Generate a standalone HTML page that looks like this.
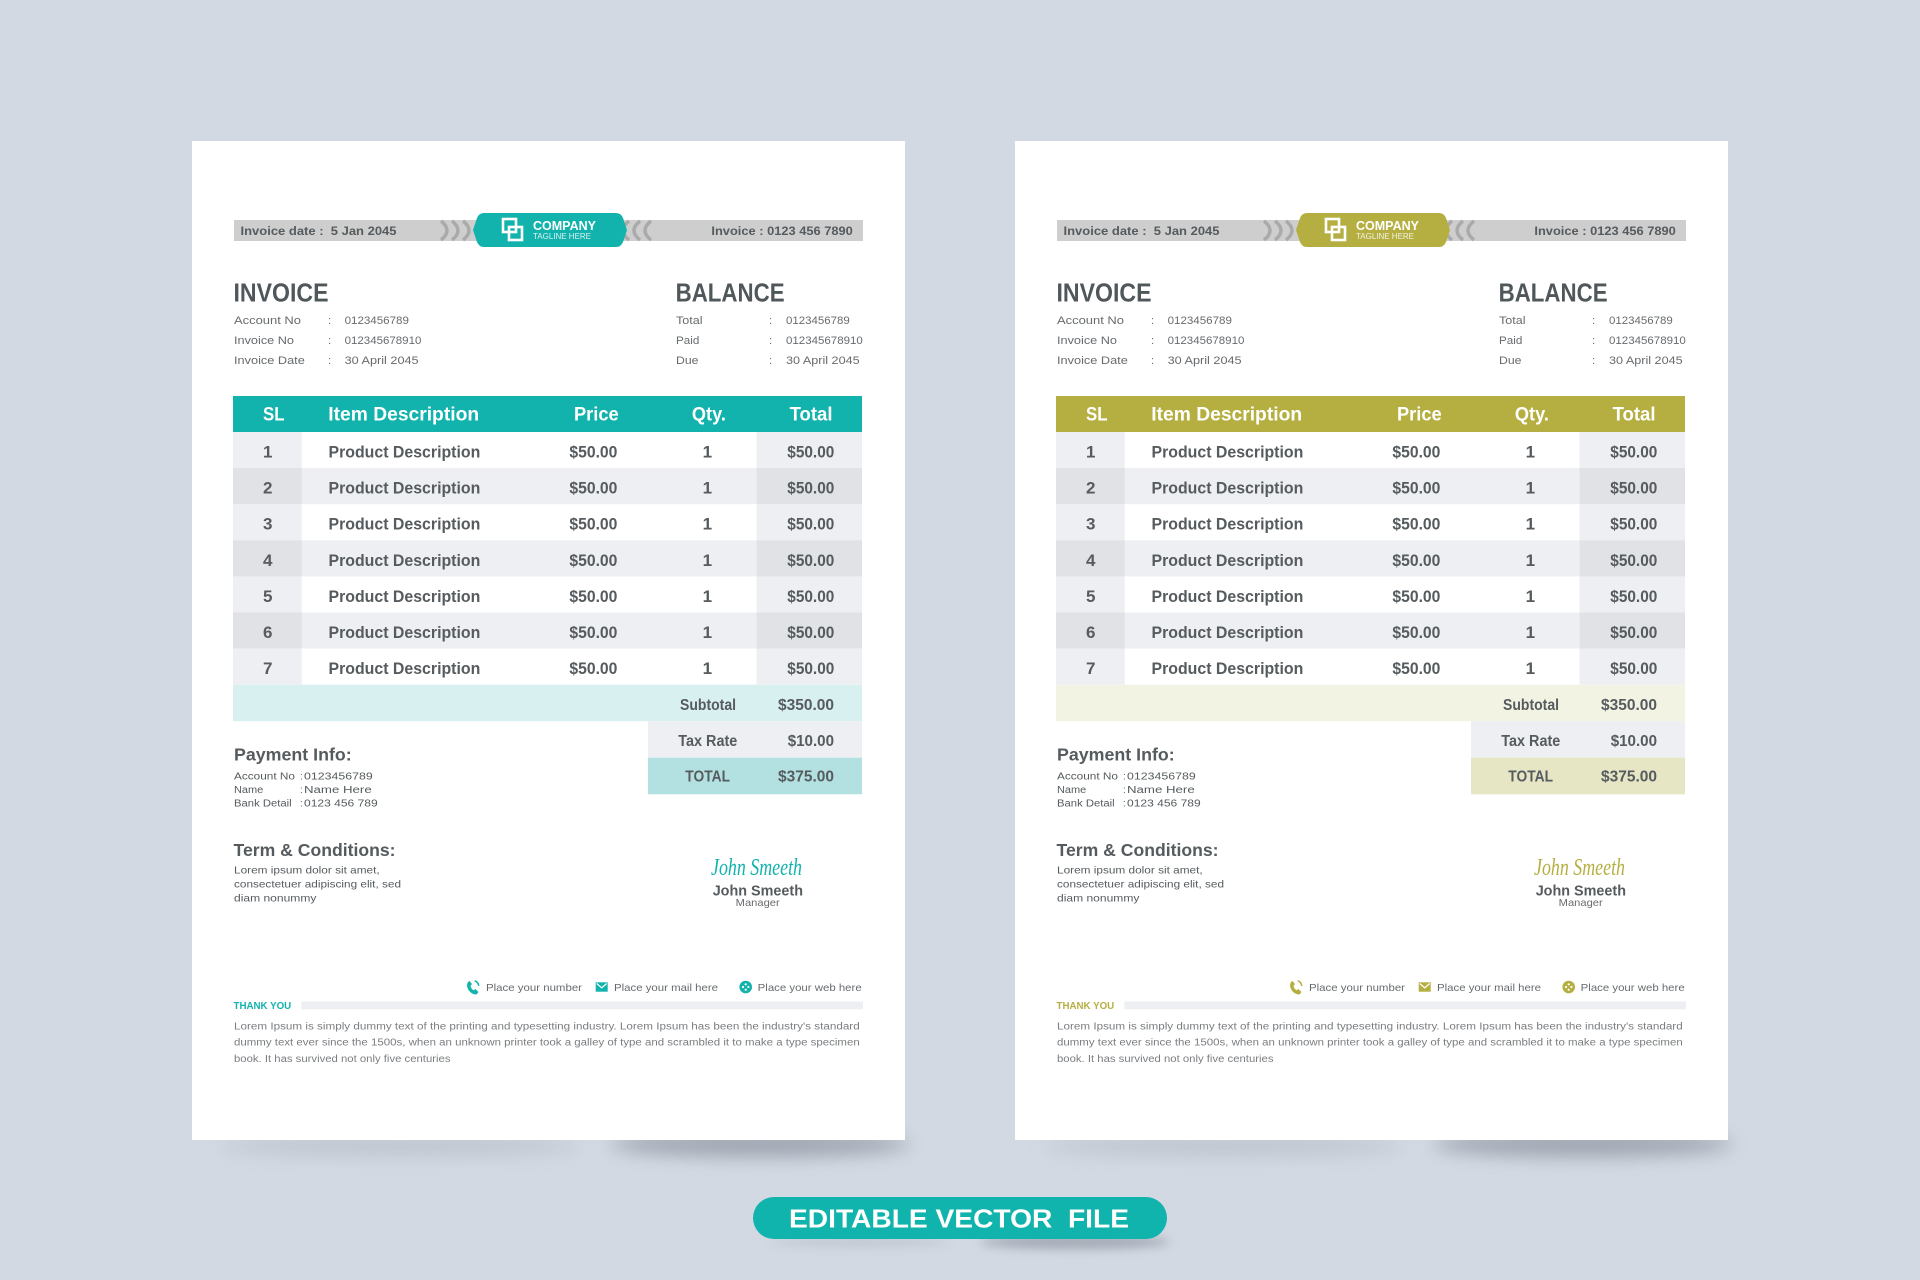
<!DOCTYPE html>
<html><head><meta charset="utf-8">
<style>
html,body{margin:0;padding:0;background:#d3d9e2;}
svg{display:block;}
text{font-family:"Liberation Sans",Arial,sans-serif;}
.b{font-weight:bold;}
.g5{fill:#555b5e;}
.g6{fill:#676b6e;}
.g7{fill:#7a7d80;}
.p1 .acc{fill:#12b2ad;} .p1 .lt{fill:#d9f0f0;} .p1 .mt{fill:#b3e1e1;}
.p2 .acc{fill:#b5af42;} .p2 .lt{fill:#f3f3e4;} .p2 .mt{fill:#e6e5c4;}
</style></head>
<body>
<svg width="1920" height="1280" viewBox="0 0 1920 1280" xmlns="http://www.w3.org/2000/svg">
<defs>
<filter id="bl" x="-50%" y="-200%" width="200%" height="500%"><feGaussianBlur stdDeviation="9"/></filter>
<filter id="bl2" x="-50%" y="-200%" width="200%" height="500%"><feGaussianBlur stdDeviation="5"/></filter>
</defs>
<rect width="1920" height="1280" fill="#d3d9e2"/>

<!-- shadows -->
<ellipse cx="400" cy="1146" rx="180" ry="10" fill="#9aa0ab" opacity="0.35" filter="url(#bl)"/>
<ellipse cx="760" cy="1144" rx="150" ry="13" fill="#7d8391" opacity="0.6" filter="url(#bl)"/>
<ellipse cx="1223" cy="1146" rx="180" ry="10" fill="#9aa0ab" opacity="0.35" filter="url(#bl)"/>
<ellipse cx="1583" cy="1144" rx="150" ry="13" fill="#7d8391" opacity="0.6" filter="url(#bl)"/>
<ellipse cx="1075" cy="1242" rx="95" ry="7" fill="#7d8391" opacity="0.55" filter="url(#bl2)"/>
<ellipse cx="860" cy="1242" rx="90" ry="5" fill="#9aa0ab" opacity="0.3" filter="url(#bl2)"/>

<!-- ============ LEFT PAGE ============ -->
<g class="p1" transform="translate(192,141)">
<rect width="713" height="999" fill="#ffffff"/>
<rect x="42" y="79" width="629" height="21" fill="#cecece"/>
<g fill="none" stroke="#aaaaaa" stroke-width="3.5">
<path d="M249,80 Q261,89.5 249,99"/><path d="M260,80 Q272,89.5 260,99"/><path d="M271,80 Q283,89.5 271,99"/>
<path d="M437,80 Q425,89.5 437,99"/><path d="M448,80 Q436,89.5 448,99"/><path d="M459,80 Q447,89.5 459,99"/>
</g>
<path class="acc" d="M292,72 H424 Q429,72 431,77 L435,89 L431,101 Q429,106 424,106 H292 Q287,106 285,101 L281,89 L285,77 Q287,72 292,72 Z"/>
<g fill="none" stroke="#ffffff" stroke-width="2.6"><rect x="311" y="78" width="13" height="13"/><rect x="317" y="86" width="13" height="13"/></g>
<text x="341" y="89" font-size="13" class="b" fill="#fff" textLength="63" lengthAdjust="spacingAndGlyphs">COMPANY</text>
<text x="341" y="98" font-size="8.5" fill="#fff" fill-opacity="0.85" textLength="58" lengthAdjust="spacingAndGlyphs">TAGLINE HERE</text>
<text x="48.5" y="94" font-size="12" class="b g5" textLength="156" lengthAdjust="spacingAndGlyphs" xml:space="preserve">Invoice date :  5 Jan 2045</text>
<text x="519.4" y="94" font-size="12" class="b g5" textLength="141.4" lengthAdjust="spacingAndGlyphs">Invoice : 0123 456 7890</text>

<text x="41.5" y="160.7" font-size="26" class="b" fill="#50575a" textLength="95" lengthAdjust="spacingAndGlyphs">INVOICE</text>
<text x="483.6" y="160.7" font-size="26" class="b" fill="#50575a" textLength="109" lengthAdjust="spacingAndGlyphs">BALANCE</text>

<g font-size="11.4" class="g6">
<text x="42" y="183" textLength="67" lengthAdjust="spacingAndGlyphs">Account No</text>
<text x="42" y="203" textLength="60" lengthAdjust="spacingAndGlyphs">Invoice No</text>
<text x="42" y="223" textLength="70.8" lengthAdjust="spacingAndGlyphs">Invoice Date</text>
<text x="136" y="183">:</text><text x="136" y="203">:</text><text x="136" y="223">:</text>
<text x="152.6" y="183" textLength="64.3" lengthAdjust="spacingAndGlyphs">0123456789</text>
<text x="152.6" y="203" textLength="76.8" lengthAdjust="spacingAndGlyphs">012345678910</text>
<text x="152.6" y="223" textLength="74" lengthAdjust="spacingAndGlyphs">30 April 2045</text>
<text x="484" y="183" textLength="26.5" lengthAdjust="spacingAndGlyphs">Total</text>
<text x="484" y="203" textLength="23.3" lengthAdjust="spacingAndGlyphs">Paid</text>
<text x="484" y="223" textLength="22.4" lengthAdjust="spacingAndGlyphs">Due</text>
<text x="577" y="183">:</text><text x="577" y="203">:</text><text x="577" y="223">:</text>
<text x="594" y="183" textLength="63.8" lengthAdjust="spacingAndGlyphs">0123456789</text>
<text x="594" y="203" textLength="76.8" lengthAdjust="spacingAndGlyphs">012345678910</text>
<text x="594" y="223" textLength="73.6" lengthAdjust="spacingAndGlyphs">30 April 2045</text>
</g>

<!-- table -->
<rect class="acc" x="41" y="255" width="629" height="36"/>
<g font-size="19" class="b" fill="#ffffff">
<text x="71" y="279.7" textLength="21.5" lengthAdjust="spacingAndGlyphs">SL</text>
<text x="136.3" y="279.7" textLength="150.8" lengthAdjust="spacingAndGlyphs">Item Description</text>
<text x="382" y="279.7" textLength="44.7" lengthAdjust="spacingAndGlyphs">Price</text>
<text x="499.9" y="279.7" textLength="34" lengthAdjust="spacingAndGlyphs">Qty.</text>
<text x="597.6" y="279.7" textLength="42.9" lengthAdjust="spacingAndGlyphs">Total</text>
</g>
<!-- rows backgrounds -->
<rect x="41" y="291" width="68.7" height="36.1" fill="#eeeff2"/><rect x="564.6" y="291" width="105.4" height="36.1" fill="#eeeff2"/>
<rect x="41" y="327.1" width="629" height="36.1" fill="#eeeff2"/><rect x="41" y="327.1" width="68.7" height="36.1" fill="#e1e2e6"/><rect x="564.6" y="327.1" width="105.4" height="36.1" fill="#e1e2e6"/>
<rect x="41" y="363.2" width="68.7" height="36.1" fill="#eeeff2"/><rect x="564.6" y="363.2" width="105.4" height="36.1" fill="#eeeff2"/>
<rect x="41" y="399.3" width="629" height="36.1" fill="#eeeff2"/><rect x="41" y="399.3" width="68.7" height="36.1" fill="#e1e2e6"/><rect x="564.6" y="399.3" width="105.4" height="36.1" fill="#e1e2e6"/>
<rect x="41" y="435.4" width="68.7" height="36.1" fill="#eeeff2"/><rect x="564.6" y="435.4" width="105.4" height="36.1" fill="#eeeff2"/>
<rect x="41" y="471.5" width="629" height="36.1" fill="#eeeff2"/><rect x="41" y="471.5" width="68.7" height="36.1" fill="#e1e2e6"/><rect x="564.6" y="471.5" width="105.4" height="36.1" fill="#e1e2e6"/>
<rect x="41" y="507.6" width="68.7" height="36.1" fill="#eeeff2"/><rect x="564.6" y="507.6" width="105.4" height="36.1" fill="#eeeff2"/>
<g font-size="17" class="b g5">
<text x="75.7" y="316.5" text-anchor="middle">1</text><text x="136.5" y="316.5" textLength="151.8" lengthAdjust="spacingAndGlyphs">Product Description</text><text x="377.4" y="316.5" textLength="48" lengthAdjust="spacingAndGlyphs">$50.00</text><text x="515.3" y="316.5" text-anchor="middle">1</text><text x="595.3" y="316.5" textLength="47" lengthAdjust="spacingAndGlyphs">$50.00</text>
<text x="75.7" y="352.6" text-anchor="middle">2</text><text x="136.5" y="352.6" textLength="151.8" lengthAdjust="spacingAndGlyphs">Product Description</text><text x="377.4" y="352.6" textLength="48" lengthAdjust="spacingAndGlyphs">$50.00</text><text x="515.3" y="352.6" text-anchor="middle">1</text><text x="595.3" y="352.6" textLength="47" lengthAdjust="spacingAndGlyphs">$50.00</text>
<text x="75.7" y="388.7" text-anchor="middle">3</text><text x="136.5" y="388.7" textLength="151.8" lengthAdjust="spacingAndGlyphs">Product Description</text><text x="377.4" y="388.7" textLength="48" lengthAdjust="spacingAndGlyphs">$50.00</text><text x="515.3" y="388.7" text-anchor="middle">1</text><text x="595.3" y="388.7" textLength="47" lengthAdjust="spacingAndGlyphs">$50.00</text>
<text x="75.7" y="424.8" text-anchor="middle">4</text><text x="136.5" y="424.8" textLength="151.8" lengthAdjust="spacingAndGlyphs">Product Description</text><text x="377.4" y="424.8" textLength="48" lengthAdjust="spacingAndGlyphs">$50.00</text><text x="515.3" y="424.8" text-anchor="middle">1</text><text x="595.3" y="424.8" textLength="47" lengthAdjust="spacingAndGlyphs">$50.00</text>
<text x="75.7" y="460.9" text-anchor="middle">5</text><text x="136.5" y="460.9" textLength="151.8" lengthAdjust="spacingAndGlyphs">Product Description</text><text x="377.4" y="460.9" textLength="48" lengthAdjust="spacingAndGlyphs">$50.00</text><text x="515.3" y="460.9" text-anchor="middle">1</text><text x="595.3" y="460.9" textLength="47" lengthAdjust="spacingAndGlyphs">$50.00</text>
<text x="75.7" y="497" text-anchor="middle">6</text><text x="136.5" y="497" textLength="151.8" lengthAdjust="spacingAndGlyphs">Product Description</text><text x="377.4" y="497" textLength="48" lengthAdjust="spacingAndGlyphs">$50.00</text><text x="515.3" y="497" text-anchor="middle">1</text><text x="595.3" y="497" textLength="47" lengthAdjust="spacingAndGlyphs">$50.00</text>
<text x="75.7" y="533.1" text-anchor="middle">7</text><text x="136.5" y="533.1" textLength="151.8" lengthAdjust="spacingAndGlyphs">Product Description</text><text x="377.4" y="533.1" textLength="48" lengthAdjust="spacingAndGlyphs">$50.00</text><text x="515.3" y="533.1" text-anchor="middle">1</text><text x="595.3" y="533.1" textLength="47" lengthAdjust="spacingAndGlyphs">$50.00</text>
</g>
<!-- summary -->
<rect class="lt" x="41" y="543.7" width="629" height="36.5"/>
<rect x="456" y="580.2" width="214" height="36.5" fill="#eeeff2"/>
<rect class="mt" x="456" y="616.7" width="214" height="36.6"/>
<g font-size="16" class="b g5">
<text x="488" y="569" textLength="56" lengthAdjust="spacingAndGlyphs">Subtotal</text>
<text x="586" y="569" textLength="56" lengthAdjust="spacingAndGlyphs">$350.00</text>
<text x="486.3" y="605" textLength="59" lengthAdjust="spacingAndGlyphs">Tax Rate</text>
<text x="595.7" y="605" textLength="46.3" lengthAdjust="spacingAndGlyphs">$10.00</text>
<text x="493.3" y="640.5" textLength="44.7" lengthAdjust="spacingAndGlyphs">TOTAL</text>
<text x="586" y="640.5" textLength="56" lengthAdjust="spacingAndGlyphs">$375.00</text>
</g>

<!-- payment -->
<text x="42" y="619.7" font-size="17.5" class="b g5" textLength="117.7" lengthAdjust="spacingAndGlyphs">Payment Info:</text>
<g font-size="9.8" class="g5">
<text x="42" y="638.5" textLength="61" lengthAdjust="spacingAndGlyphs">Account No</text>
<text x="42" y="652" textLength="29.3" lengthAdjust="spacingAndGlyphs">Name</text>
<text x="42" y="665.5" textLength="57.7" lengthAdjust="spacingAndGlyphs">Bank Detail</text>
<text x="108" y="638.5">:</text><text x="108" y="652">:</text><text x="108" y="665.5">:</text>
<text x="112" y="638.5" textLength="68.7" lengthAdjust="spacingAndGlyphs">0123456789</text>
<text x="112" y="652" textLength="67.7" lengthAdjust="spacingAndGlyphs">Name Here</text>
<text x="112" y="665.5" textLength="73.7" lengthAdjust="spacingAndGlyphs">0123 456 789</text>
</g>

<!-- terms -->
<text x="41.5" y="715" font-size="17.5" class="b g5" textLength="162" lengthAdjust="spacingAndGlyphs">Term &amp; Conditions:</text>
<g font-size="10.5" class="g5">
<text x="42" y="732.3" textLength="145.7" lengthAdjust="spacingAndGlyphs">Lorem ipsum dolor sit amet,</text>
<text x="42" y="746.7" textLength="167" lengthAdjust="spacingAndGlyphs">consectetuer adipiscing elit, sed</text>
<text x="42" y="760.3" textLength="82.4" lengthAdjust="spacingAndGlyphs">diam nonummy</text>
</g>

<!-- signature -->
<text class="acc" x="519" y="734" font-size="24" font-style="italic" style="font-family:'Liberation Serif',serif" textLength="91" lengthAdjust="spacingAndGlyphs">John Smeeth</text>
<text x="520.7" y="754.7" font-size="15" class="b g5" textLength="90.3" lengthAdjust="spacingAndGlyphs">John Smeeth</text>
<text x="543.7" y="765" font-size="10.5" class="g6" textLength="44" lengthAdjust="spacingAndGlyphs">Manager</text>

<!-- contacts -->
<path class="acc" d="M276.5,840.5 Q273.5,844 276.5,849 Q279.5,853.5 284.5,853.5 L286.5,851 L283.5,848 L281.5,849.3 Q279,847.5 278.5,845 L280,843 L277.5,840 Z"/>
<path class="acc" d="M283,839 Q287,840.5 287.5,845 L286,845 Q285.5,841.5 282.5,840.5 Z"/>
<rect class="acc" x="403.7" y="841.3" width="12" height="9.4"/>
<polyline points="404.7,842.5 409.7,846.8 414.7,842.5" fill="none" stroke="#fff" stroke-width="1.2"/>
<circle class="acc" cx="553.7" cy="846" r="6.3"/>
<circle cx="551" cy="846" r="1.1" fill="#fff"/><circle cx="556.4" cy="846" r="1.1" fill="#fff"/><circle cx="553.7" cy="843.3" r="1.1" fill="#fff"/><circle cx="553.7" cy="848.7" r="1.1" fill="#fff"/>
<g font-size="10.5" class="g6">
<text x="294" y="850" textLength="96" lengthAdjust="spacingAndGlyphs">Place your number</text>
<text x="422" y="850" textLength="104" lengthAdjust="spacingAndGlyphs">Place your mail here</text>
<text x="565.7" y="850" textLength="104" lengthAdjust="spacingAndGlyphs">Place your web here</text>
</g>
<text class="acc b" x="41.5" y="868" font-size="10" textLength="57.7" lengthAdjust="spacingAndGlyphs">THANK YOU</text>
<rect x="109.3" y="860.5" width="561.7" height="7.8" fill="#eeeff2"/>
<g font-size="10" class="g7">
<text x="42" y="888.3" textLength="625.7" lengthAdjust="spacingAndGlyphs">Lorem Ipsum is simply dummy text of the printing and typesetting industry. Lorem Ipsum has been the industry's standard</text>
<text x="42" y="904.7" textLength="625.7" lengthAdjust="spacingAndGlyphs">dummy text ever since the 1500s, when an unknown printer took a galley of type and scrambled it to make a type specimen</text>
<text x="42" y="921" textLength="216.5" lengthAdjust="spacingAndGlyphs">book. It has survived not only five centuries</text>
</g>
</g>

<!-- ============ RIGHT PAGE ============ -->
<g class="p2" transform="translate(1015,141)">
<rect width="713" height="999" fill="#ffffff"/>
<rect x="42" y="79" width="629" height="21" fill="#cecece"/>
<g fill="none" stroke="#aaaaaa" stroke-width="3.5">
<path d="M249,80 Q261,89.5 249,99"/><path d="M260,80 Q272,89.5 260,99"/><path d="M271,80 Q283,89.5 271,99"/>
<path d="M437,80 Q425,89.5 437,99"/><path d="M448,80 Q436,89.5 448,99"/><path d="M459,80 Q447,89.5 459,99"/>
</g>
<path class="acc" d="M292,72 H424 Q429,72 431,77 L435,89 L431,101 Q429,106 424,106 H292 Q287,106 285,101 L281,89 L285,77 Q287,72 292,72 Z"/>
<g fill="none" stroke="#ffffff" stroke-width="2.6"><rect x="311" y="78" width="13" height="13"/><rect x="317" y="86" width="13" height="13"/></g>
<text x="341" y="89" font-size="13" class="b" fill="#fff" textLength="63" lengthAdjust="spacingAndGlyphs">COMPANY</text>
<text x="341" y="98" font-size="8.5" fill="#fff" fill-opacity="0.85" textLength="58" lengthAdjust="spacingAndGlyphs">TAGLINE HERE</text>
<text x="48.5" y="94" font-size="12" class="b g5" textLength="156" lengthAdjust="spacingAndGlyphs" xml:space="preserve">Invoice date :  5 Jan 2045</text>
<text x="519.4" y="94" font-size="12" class="b g5" textLength="141.4" lengthAdjust="spacingAndGlyphs">Invoice : 0123 456 7890</text>

<text x="41.5" y="160.7" font-size="26" class="b" fill="#50575a" textLength="95" lengthAdjust="spacingAndGlyphs">INVOICE</text>
<text x="483.6" y="160.7" font-size="26" class="b" fill="#50575a" textLength="109" lengthAdjust="spacingAndGlyphs">BALANCE</text>

<g font-size="11.4" class="g6">
<text x="42" y="183" textLength="67" lengthAdjust="spacingAndGlyphs">Account No</text>
<text x="42" y="203" textLength="60" lengthAdjust="spacingAndGlyphs">Invoice No</text>
<text x="42" y="223" textLength="70.8" lengthAdjust="spacingAndGlyphs">Invoice Date</text>
<text x="136" y="183">:</text><text x="136" y="203">:</text><text x="136" y="223">:</text>
<text x="152.6" y="183" textLength="64.3" lengthAdjust="spacingAndGlyphs">0123456789</text>
<text x="152.6" y="203" textLength="76.8" lengthAdjust="spacingAndGlyphs">012345678910</text>
<text x="152.6" y="223" textLength="74" lengthAdjust="spacingAndGlyphs">30 April 2045</text>
<text x="484" y="183" textLength="26.5" lengthAdjust="spacingAndGlyphs">Total</text>
<text x="484" y="203" textLength="23.3" lengthAdjust="spacingAndGlyphs">Paid</text>
<text x="484" y="223" textLength="22.4" lengthAdjust="spacingAndGlyphs">Due</text>
<text x="577" y="183">:</text><text x="577" y="203">:</text><text x="577" y="223">:</text>
<text x="594" y="183" textLength="63.8" lengthAdjust="spacingAndGlyphs">0123456789</text>
<text x="594" y="203" textLength="76.8" lengthAdjust="spacingAndGlyphs">012345678910</text>
<text x="594" y="223" textLength="73.6" lengthAdjust="spacingAndGlyphs">30 April 2045</text>
</g>

<rect class="acc" x="41" y="255" width="629" height="36"/>
<g font-size="19" class="b" fill="#ffffff">
<text x="71" y="279.7" textLength="21.5" lengthAdjust="spacingAndGlyphs">SL</text>
<text x="136.3" y="279.7" textLength="150.8" lengthAdjust="spacingAndGlyphs">Item Description</text>
<text x="382" y="279.7" textLength="44.7" lengthAdjust="spacingAndGlyphs">Price</text>
<text x="499.9" y="279.7" textLength="34" lengthAdjust="spacingAndGlyphs">Qty.</text>
<text x="597.6" y="279.7" textLength="42.9" lengthAdjust="spacingAndGlyphs">Total</text>
</g>
<rect x="41" y="291" width="68.7" height="36.1" fill="#eeeff2"/><rect x="564.6" y="291" width="105.4" height="36.1" fill="#eeeff2"/>
<rect x="41" y="327.1" width="629" height="36.1" fill="#eeeff2"/><rect x="41" y="327.1" width="68.7" height="36.1" fill="#e1e2e6"/><rect x="564.6" y="327.1" width="105.4" height="36.1" fill="#e1e2e6"/>
<rect x="41" y="363.2" width="68.7" height="36.1" fill="#eeeff2"/><rect x="564.6" y="363.2" width="105.4" height="36.1" fill="#eeeff2"/>
<rect x="41" y="399.3" width="629" height="36.1" fill="#eeeff2"/><rect x="41" y="399.3" width="68.7" height="36.1" fill="#e1e2e6"/><rect x="564.6" y="399.3" width="105.4" height="36.1" fill="#e1e2e6"/>
<rect x="41" y="435.4" width="68.7" height="36.1" fill="#eeeff2"/><rect x="564.6" y="435.4" width="105.4" height="36.1" fill="#eeeff2"/>
<rect x="41" y="471.5" width="629" height="36.1" fill="#eeeff2"/><rect x="41" y="471.5" width="68.7" height="36.1" fill="#e1e2e6"/><rect x="564.6" y="471.5" width="105.4" height="36.1" fill="#e1e2e6"/>
<rect x="41" y="507.6" width="68.7" height="36.1" fill="#eeeff2"/><rect x="564.6" y="507.6" width="105.4" height="36.1" fill="#eeeff2"/>
<g font-size="17" class="b g5">
<text x="75.7" y="316.5" text-anchor="middle">1</text><text x="136.5" y="316.5" textLength="151.8" lengthAdjust="spacingAndGlyphs">Product Description</text><text x="377.4" y="316.5" textLength="48" lengthAdjust="spacingAndGlyphs">$50.00</text><text x="515.3" y="316.5" text-anchor="middle">1</text><text x="595.3" y="316.5" textLength="47" lengthAdjust="spacingAndGlyphs">$50.00</text>
<text x="75.7" y="352.6" text-anchor="middle">2</text><text x="136.5" y="352.6" textLength="151.8" lengthAdjust="spacingAndGlyphs">Product Description</text><text x="377.4" y="352.6" textLength="48" lengthAdjust="spacingAndGlyphs">$50.00</text><text x="515.3" y="352.6" text-anchor="middle">1</text><text x="595.3" y="352.6" textLength="47" lengthAdjust="spacingAndGlyphs">$50.00</text>
<text x="75.7" y="388.7" text-anchor="middle">3</text><text x="136.5" y="388.7" textLength="151.8" lengthAdjust="spacingAndGlyphs">Product Description</text><text x="377.4" y="388.7" textLength="48" lengthAdjust="spacingAndGlyphs">$50.00</text><text x="515.3" y="388.7" text-anchor="middle">1</text><text x="595.3" y="388.7" textLength="47" lengthAdjust="spacingAndGlyphs">$50.00</text>
<text x="75.7" y="424.8" text-anchor="middle">4</text><text x="136.5" y="424.8" textLength="151.8" lengthAdjust="spacingAndGlyphs">Product Description</text><text x="377.4" y="424.8" textLength="48" lengthAdjust="spacingAndGlyphs">$50.00</text><text x="515.3" y="424.8" text-anchor="middle">1</text><text x="595.3" y="424.8" textLength="47" lengthAdjust="spacingAndGlyphs">$50.00</text>
<text x="75.7" y="460.9" text-anchor="middle">5</text><text x="136.5" y="460.9" textLength="151.8" lengthAdjust="spacingAndGlyphs">Product Description</text><text x="377.4" y="460.9" textLength="48" lengthAdjust="spacingAndGlyphs">$50.00</text><text x="515.3" y="460.9" text-anchor="middle">1</text><text x="595.3" y="460.9" textLength="47" lengthAdjust="spacingAndGlyphs">$50.00</text>
<text x="75.7" y="497" text-anchor="middle">6</text><text x="136.5" y="497" textLength="151.8" lengthAdjust="spacingAndGlyphs">Product Description</text><text x="377.4" y="497" textLength="48" lengthAdjust="spacingAndGlyphs">$50.00</text><text x="515.3" y="497" text-anchor="middle">1</text><text x="595.3" y="497" textLength="47" lengthAdjust="spacingAndGlyphs">$50.00</text>
<text x="75.7" y="533.1" text-anchor="middle">7</text><text x="136.5" y="533.1" textLength="151.8" lengthAdjust="spacingAndGlyphs">Product Description</text><text x="377.4" y="533.1" textLength="48" lengthAdjust="spacingAndGlyphs">$50.00</text><text x="515.3" y="533.1" text-anchor="middle">1</text><text x="595.3" y="533.1" textLength="47" lengthAdjust="spacingAndGlyphs">$50.00</text>
</g>
<rect class="lt" x="41" y="543.7" width="629" height="36.5"/>
<rect x="456" y="580.2" width="214" height="36.5" fill="#eeeff2"/>
<rect class="mt" x="456" y="616.7" width="214" height="36.6"/>
<g font-size="16" class="b g5">
<text x="488" y="569" textLength="56" lengthAdjust="spacingAndGlyphs">Subtotal</text>
<text x="586" y="569" textLength="56" lengthAdjust="spacingAndGlyphs">$350.00</text>
<text x="486.3" y="605" textLength="59" lengthAdjust="spacingAndGlyphs">Tax Rate</text>
<text x="595.7" y="605" textLength="46.3" lengthAdjust="spacingAndGlyphs">$10.00</text>
<text x="493.3" y="640.5" textLength="44.7" lengthAdjust="spacingAndGlyphs">TOTAL</text>
<text x="586" y="640.5" textLength="56" lengthAdjust="spacingAndGlyphs">$375.00</text>
</g>

<text x="42" y="619.7" font-size="17.5" class="b g5" textLength="117.7" lengthAdjust="spacingAndGlyphs">Payment Info:</text>
<g font-size="9.8" class="g5">
<text x="42" y="638.5" textLength="61" lengthAdjust="spacingAndGlyphs">Account No</text>
<text x="42" y="652" textLength="29.3" lengthAdjust="spacingAndGlyphs">Name</text>
<text x="42" y="665.5" textLength="57.7" lengthAdjust="spacingAndGlyphs">Bank Detail</text>
<text x="108" y="638.5">:</text><text x="108" y="652">:</text><text x="108" y="665.5">:</text>
<text x="112" y="638.5" textLength="68.7" lengthAdjust="spacingAndGlyphs">0123456789</text>
<text x="112" y="652" textLength="67.7" lengthAdjust="spacingAndGlyphs">Name Here</text>
<text x="112" y="665.5" textLength="73.7" lengthAdjust="spacingAndGlyphs">0123 456 789</text>
</g>

<text x="41.5" y="715" font-size="17.5" class="b g5" textLength="162" lengthAdjust="spacingAndGlyphs">Term &amp; Conditions:</text>
<g font-size="10.5" class="g5">
<text x="42" y="732.3" textLength="145.7" lengthAdjust="spacingAndGlyphs">Lorem ipsum dolor sit amet,</text>
<text x="42" y="746.7" textLength="167" lengthAdjust="spacingAndGlyphs">consectetuer adipiscing elit, sed</text>
<text x="42" y="760.3" textLength="82.4" lengthAdjust="spacingAndGlyphs">diam nonummy</text>
</g>

<text class="acc" x="519" y="734" font-size="24" font-style="italic" style="font-family:'Liberation Serif',serif" textLength="91" lengthAdjust="spacingAndGlyphs">John Smeeth</text>
<text x="520.7" y="754.7" font-size="15" class="b g5" textLength="90.3" lengthAdjust="spacingAndGlyphs">John Smeeth</text>
<text x="543.7" y="765" font-size="10.5" class="g6" textLength="44" lengthAdjust="spacingAndGlyphs">Manager</text>

<path class="acc" d="M276.5,840.5 Q273.5,844 276.5,849 Q279.5,853.5 284.5,853.5 L286.5,851 L283.5,848 L281.5,849.3 Q279,847.5 278.5,845 L280,843 L277.5,840 Z"/>
<path class="acc" d="M283,839 Q287,840.5 287.5,845 L286,845 Q285.5,841.5 282.5,840.5 Z"/>
<rect class="acc" x="403.7" y="841.3" width="12" height="9.4"/>
<polyline points="404.7,842.5 409.7,846.8 414.7,842.5" fill="none" stroke="#fff" stroke-width="1.2"/>
<circle class="acc" cx="553.7" cy="846" r="6.3"/>
<circle cx="551" cy="846" r="1.1" fill="#fff"/><circle cx="556.4" cy="846" r="1.1" fill="#fff"/><circle cx="553.7" cy="843.3" r="1.1" fill="#fff"/><circle cx="553.7" cy="848.7" r="1.1" fill="#fff"/>
<g font-size="10.5" class="g6">
<text x="294" y="850" textLength="96" lengthAdjust="spacingAndGlyphs">Place your number</text>
<text x="422" y="850" textLength="104" lengthAdjust="spacingAndGlyphs">Place your mail here</text>
<text x="565.7" y="850" textLength="104" lengthAdjust="spacingAndGlyphs">Place your web here</text>
</g>
<text class="acc b" x="41.5" y="868" font-size="10" textLength="57.7" lengthAdjust="spacingAndGlyphs">THANK YOU</text>
<rect x="109.3" y="860.5" width="561.7" height="7.8" fill="#eeeff2"/>
<g font-size="10" class="g7">
<text x="42" y="888.3" textLength="625.7" lengthAdjust="spacingAndGlyphs">Lorem Ipsum is simply dummy text of the printing and typesetting industry. Lorem Ipsum has been the industry's standard</text>
<text x="42" y="904.7" textLength="625.7" lengthAdjust="spacingAndGlyphs">dummy text ever since the 1500s, when an unknown printer took a galley of type and scrambled it to make a type specimen</text>
<text x="42" y="921" textLength="216.5" lengthAdjust="spacingAndGlyphs">book. It has survived not only five centuries</text>
</g>
</g>

<!-- button -->
<rect x="753" y="1197" width="414" height="42" rx="21" ry="21" fill="#11b3ad"/>
<text x="789" y="1227.3" font-size="26" class="b" fill="#ffffff" textLength="340" lengthAdjust="spacingAndGlyphs" xml:space="preserve">EDITABLE VECTOR  FILE</text>
</svg>
</body></html>
